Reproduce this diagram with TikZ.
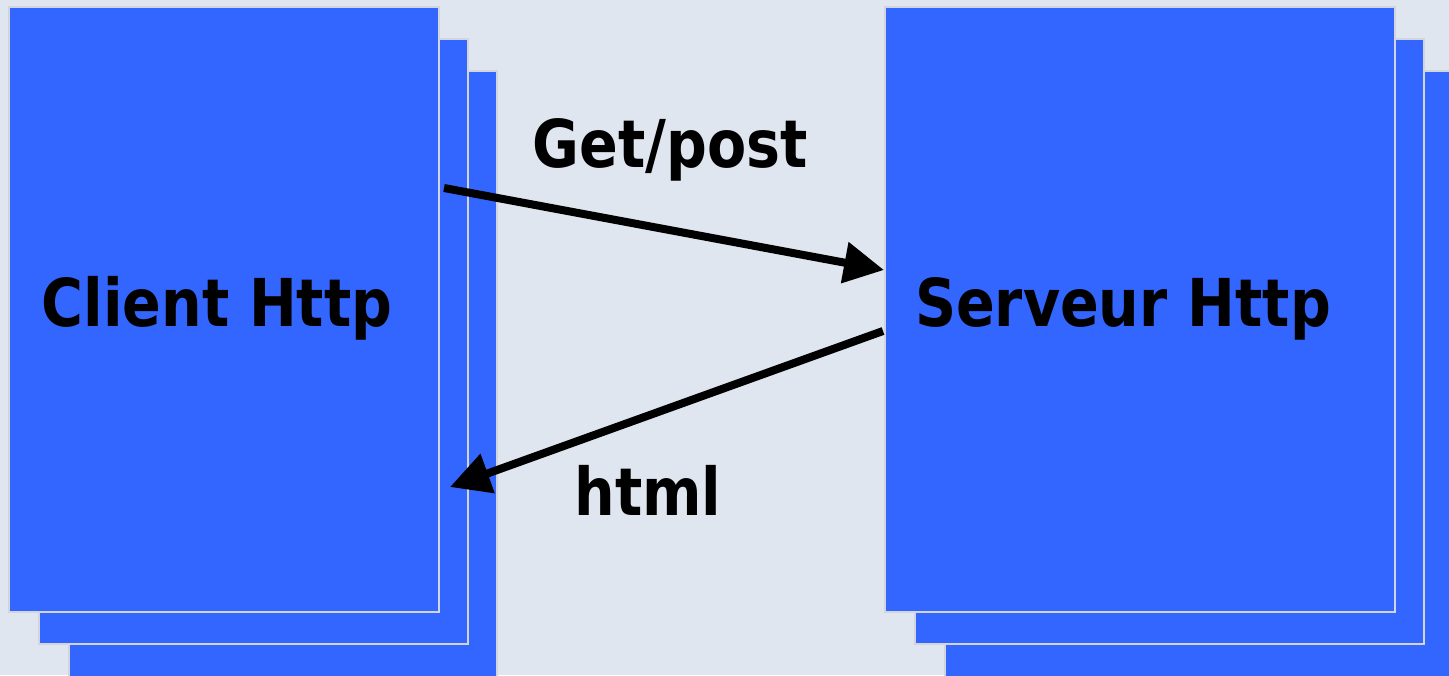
\documentclass[tikz,border=0pt]{standalone}
\usepackage{fontspec}
\setmainfont{DejaVu Sans}[FakeStretch=0.865]
\usetikzlibrary{arrows.meta}
\definecolor{bgcol}{RGB}{223,230,240}
\definecolor{boxblue}{RGB}{51,102,255}
\definecolor{boxedge}{RGB}{210,212,222}
\tikzset{
  page/.style={x=1pt,y=-1pt},
  sheet/.style={fill=boxblue,draw=boxedge,line width=2pt},
  lbl/.style={inner sep=0pt,anchor=base,font=\fontsize{66}{70}\selectfont\bfseries},
  msg/.style={line width=8pt,-{Triangle[length=40pt,width=40pt]}}
}
\begin{document}
\begin{tikzpicture}[page]
  \useasboundingbox (0,0) rectangle (1449,675);
  \clip (0,0) rectangle (1449,675);
  \fill[bgcol] (0,0) rectangle (1449,675);
  % client stack of pages
  \draw[sheet] (69,71) rectangle (497,690);
  \draw[sheet] (39,39) rectangle (468,644);
  \draw[sheet] (9,7) rectangle (439,612);
  % server stack of pages
  \draw[sheet] (945,71) rectangle (1470,690);
  \draw[sheet] (915,39) rectangle (1424,644);
  \draw[sheet] (885,7) rectangle (1395,612);
  % labels
  \node[lbl] (client) at (217,326) {Client Http};
  \node[lbl] (server) at (1123,326) {Serveur Http};
  \node[lbl] (req) at (670,167) {Get/post};
  \node[lbl] (resp) at (648,515) {html};
  % request / response
  \coordinate (cOut) at (444,188);
  \coordinate (sIn) at (884,270);
  \coordinate (sOut) at (883,331);
  \coordinate (cIn) at (450,487);
  \draw[msg] (cOut) -- (sIn);
  \draw[msg] (sOut) -- (cIn);
\end{tikzpicture}
\end{document}
